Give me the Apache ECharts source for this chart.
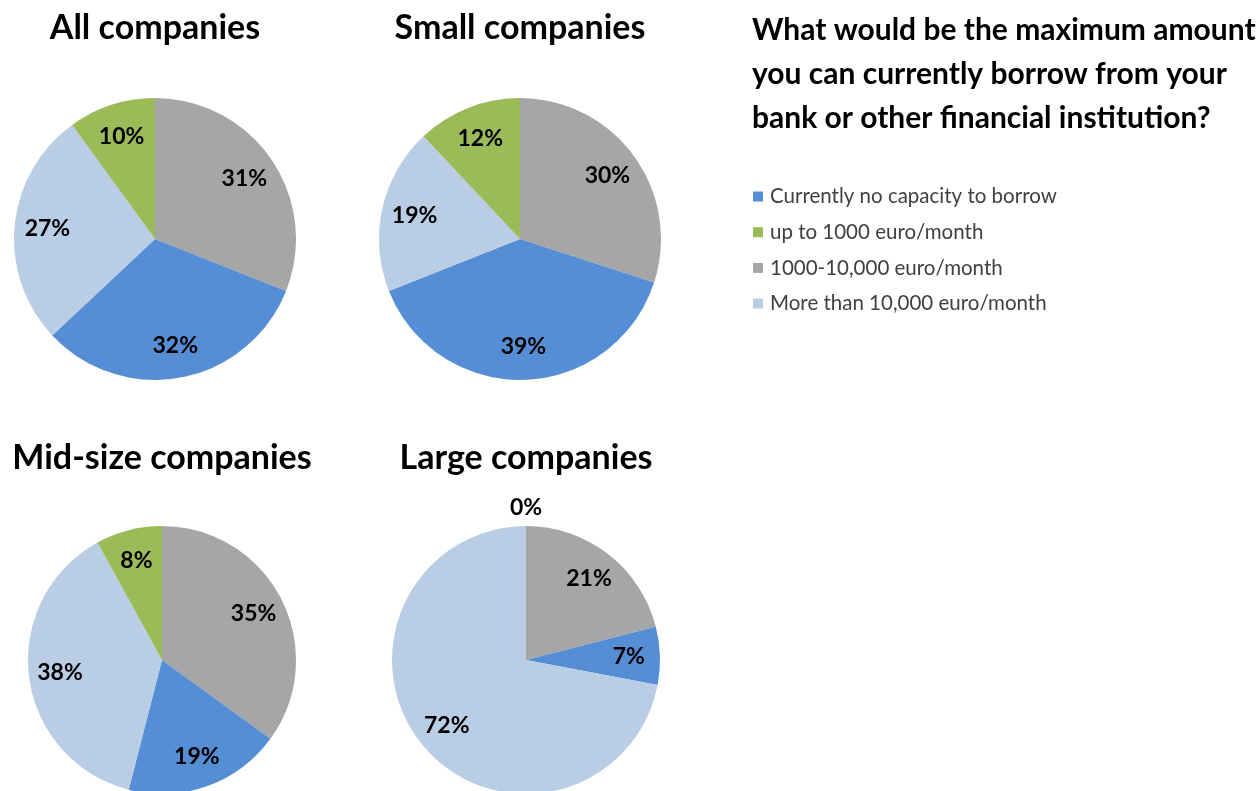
<!DOCTYPE html>
<html>
<head>
<meta charset="utf-8">
<script src="https://cdn.jsdelivr.net/npm/echarts@6/dist/echarts.min.js"></script>
<style>
  html, body { margin: 0; padding: 0; background: #ffffff; }
  #chart { width: 1258px; height: 791px; }
</style>
</head>
<body>
<div id="chart"></div>
<script>
// Categories in drawing order (clockwise from 12 o'clock)
const categories = ['1000-10,000 euro/month', 'Currently no capacity to borrow', 'More than 10,000 euro/month', 'up to 1000 euro/month'];
// Legend order
const legendOrder = ['Currently no capacity to borrow', 'up to 1000 euro/month', '1000-10,000 euro/month', 'More than 10,000 euro/month'];
const colors = {
  'Currently no capacity to borrow': '#558ED5',
  'up to 1000 euro/month': '#9BBB59',
  '1000-10,000 euro/month': '#A6A6A6',
  'More than 10,000 euro/month': '#B9CDE5'
};

// Shares in percent, same order as categories
const allCompanies = [31, 32, 27, 10];
const smallCompanies = [30, 39, 19, 12];
const midCompanies = [35, 19, 38, 8];
const largeCompanies = [21, 7, 72, 0];

const pieTitles = ['All companies', 'Small companies', 'Mid-size companies', 'Large companies'];
const questionLines = ['What would be the maximum amount', 'you can currently borrow from your', 'bank or other financial institution?'];

const FONT = 'Lato, "Open Sans", sans-serif';

const pies = [
  { values: allCompanies, center: [155, 239], r: 141, title: pieTitles[0], titleY: 28 },
  { values: smallCompanies, center: [520, 239], r: 141, title: pieTitles[1], titleY: 28 },
  { values: midCompanies, center: [162, 660], r: 134, title: pieTitles[2], titleY: 458 },
  { values: largeCompanies, center: [526, 660], r: 134, title: pieTitles[3], titleY: 458 }
];

const labelStyle = { color: '#000000', fontSize: 23, fontWeight: 'bold', fontFamily: FONT };

const series = [];
// Coloured slices
pies.forEach(function (p) {
  series.push({
    type: 'pie',
    center: p.center,
    radius: [0, p.r],
    startAngle: 90,
    clockwise: true,
    avoidLabelOverlap: false,
    silent: true,
    label: { show: false },
    labelLine: { show: false },
    itemStyle: { borderWidth: 0 },
    data: categories.map(function (c, i) {
      return { name: c, value: p.values[i], itemStyle: { color: colors[c] } };
    })
  });
});
// Percentage labels placed inside each slice
pies.forEach(function (p) {
  series.push({
    type: 'pie',
    center: p.center,
    radius: [p.r * 0.49, p.r],
    startAngle: 90,
    clockwise: true,
    avoidLabelOverlap: false,
    silent: true,
    itemStyle: { color: 'rgba(0,0,0,0)', borderWidth: 0 },
    labelLine: { show: false },
    label: Object.assign({ show: true, position: 'inside', formatter: '{c}%' }, labelStyle),
    data: categories.map(function (c, i) {
      const v = p.values[i];
      return v === 0 ? { name: c, value: v, label: { show: false } } : { name: c, value: v };
    })
  });
});
// Labels of empty slices sit just outside the rim
pies.forEach(function (p) {
  if (p.values.indexOf(0) < 0) return;
  series.push({
    type: 'pie',
    center: p.center,
    radius: [p.r, p.r + 30],
    startAngle: 90,
    clockwise: true,
    avoidLabelOverlap: false,
    silent: true,
    itemStyle: { color: 'rgba(0,0,0,0)', borderWidth: 0 },
    labelLine: { show: false },
    label: Object.assign({ show: true, position: 'inside', formatter: '{c}%' }, labelStyle),
    data: categories.map(function (c, i) {
      const v = p.values[i];
      return v === 0 ? { name: c, value: v } : { name: c, value: v, label: { show: false } };
    })
  });
});

const graphic = pies.map(function (p) {
  return {
    type: 'text',
    x: p.center[0],
    y: p.titleY,
    style: {
      text: p.title,
      align: 'center',
      verticalAlign: 'middle',
      fill: '#000000',
      font: 'bold 34px ' + FONT
    }
  };
});
questionLines.forEach(function (line, i) {
  graphic.push({
    type: 'text',
    x: 752,
    y: 30 + i * 44,
    style: {
      text: line,
      align: 'left',
      verticalAlign: 'middle',
      fill: '#000000',
      font: 'bold 30px ' + FONT
    }
  });
});

const chart = echarts.init(document.getElementById('chart'), null, { renderer: 'canvas' });
chart.setOption({
  animation: false,
  backgroundColor: '#ffffff',
  legend: {
    orient: 'vertical',
    left: 748,
    top: 181,
    icon: 'rect',
    itemWidth: 10,
    itemHeight: 10,
    itemGap: 14.7,
    selectedMode: false,
    data: legendOrder,
    textStyle: { color: '#404040', fontSize: 20.5, lineHeight: 20, fontFamily: FONT, padding: [0, 0, 0, 2] }
  },
  graphic: graphic,
  series: series
});
</script>
</body>
</html>
